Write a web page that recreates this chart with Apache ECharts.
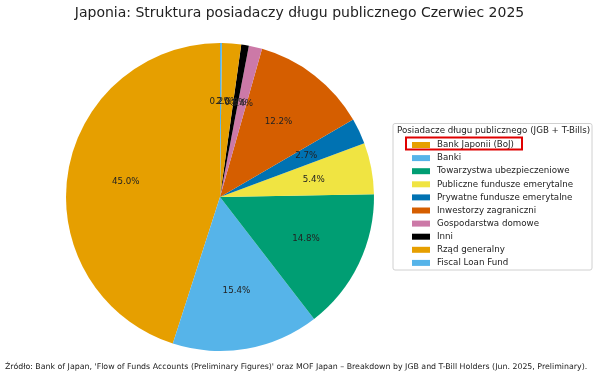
<!DOCTYPE html>
<html><head><meta charset="utf-8">
<script src="https://cdn.jsdelivr.net/npm/echarts@6/dist/echarts.min.js"></script>
<style>html,body{margin:0;padding:0;background:#fff}#c{width:605px;height:381px}</style>
</head><body><div id="c"></div>
<script>
const categories = ["Bank Japonii (BoJ)","Banki","Towarzystwa ubezpieczeniowe","Publiczne fundusze emerytalne","Prywatne fundusze emerytalne","Inwestorzy zagraniczni","Gospodarstwa domowe","Inni","Rząd generalny","Fiscal Loan Fund"];
const shares = [45.0, 15.4, 14.8, 5.4, 2.7, 12.2, 1.4, 0.8, 2.0, 0.2];
const colors = ["#E69F00","#56B4E9","#009E73","#F0E442","#0072B2","#D55E00","#CC79A7","#000000","#E69F00","#56B4E9"];
const font = "DejaVu Sans";
const chart = echarts.init(document.getElementById('c'), null, {renderer:'canvas'});
const data = categories.map((n,i)=>({name:n, value:shares[i], itemStyle:{color:colors[i]}}));
chart.setOption({
  animation:false,
  title:{text:"Japonia: Struktura posiadaczy długu publicznego Czerwiec 2025", left:294.5, textAlign:'center', top:1,
    textStyle:{fontFamily:font, fontSize:14, fontWeight:'normal', color:'#222'}},
  legend:{orient:'vertical', left:412, top:140, padding:0, itemWidth:18, itemHeight:6, itemGap:3.1, icon:'rect',
    data:categories, selectedMode:false,
    textStyle:{fontFamily:font, fontSize:8.7, color:'#222', lineHeight:10, padding:[0,0,0,2]}},
  graphic:[
    {type:'rect', shape:{x:393,y:123.5,width:199,height:146.5,r:2}, style:{fill:'#fff',stroke:'#d0d0d0',lineWidth:1}, z:-1},
    {type:'text', left:397, top:126, style:{text:"Posiadacze długu publicznego (JGB + T-Bills)", font:"8.7px 'DejaVu Sans'", fill:'#222'}},
    {type:'rect', shape:{x:406,y:137.5,width:116,height:12}, style:{fill:'none',stroke:'#e00000',lineWidth:2}, z:100},
    {type:'text', left:5, top:363, style:{text:"Źródło: Bank of Japan, 'Flow of Funds Accounts (Preliminary Figures)' oraz MOF Japan – Breakdown by JGB and T-Bill Holders (Jun. 2025, Preliminary).", font:"7.85px 'DejaVu Sans'", fill:'#222'}}
  ],
  series:[
    {type:'pie', center:[220,197], radius:[0,154], startAngle:90, clockwise:false, data:data,
      label:{show:false}, labelLine:{show:false}, itemStyle:{borderWidth:0}, emphasis:{disabled:true}, silent:true},
    {type:'pie', center:[220,197], radius:[30.8,154], startAngle:90, clockwise:false, data:data.map(d=>({name:d.name,value:d.value})),
      itemStyle:{color:'rgba(0,0,0,0)', borderWidth:0}, silent:true, emphasis:{disabled:true},
      label:{show:true, position:'inside', formatter:p=>p.value.toFixed(1)+'%', fontFamily:font, fontSize:8.7, color:'#222'},
      labelLine:{show:false}, labelLayout:{hideOverlap:false}}
  ]
});
</script></body></html>
